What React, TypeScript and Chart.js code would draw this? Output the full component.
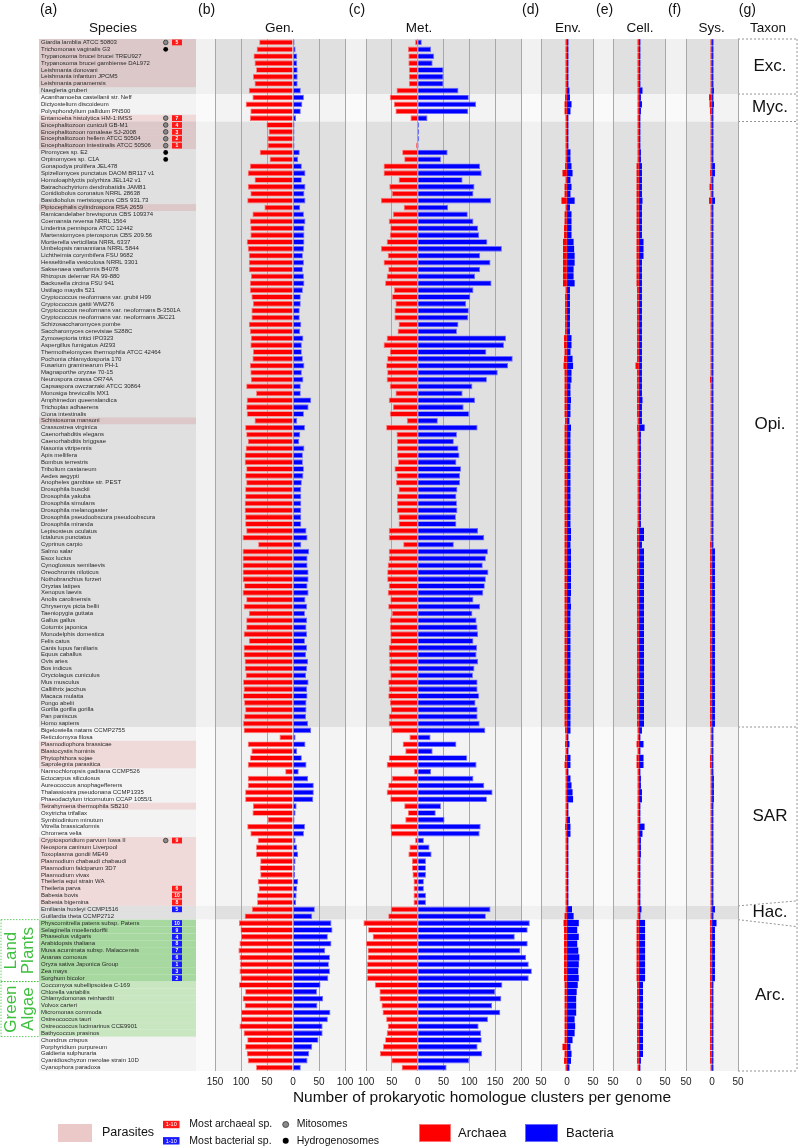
import React, { useEffect, useRef } from "react";
import { Chart, registerables } from "chart.js";

Chart.register(...registerables);

// ---------------- data ----------------
const species = [
  "Giardia lamblia ATCC 50803", "Trichomonas vaginalis G3", "Trypanosoma brucei brucei TREU927",
  "Trypanosoma brucei gambiense DAL972", "Leishmania donovani", "Leishmania infantum JPCM5",
  "Leishmania panamensis", "Naegleria gruberi", "Acanthamoeba castellanii str. Neff",
  "Dictyostelium discoideum", "Polysphondylium pallidum PN500", "Entamoeba histolytica HM-1:IMSS",
  "Encephalitozoon cuniculi GB-M1", "Encephalitozoon romaleae SJ-2008", "Encephalitozoon hellem ATCC 50504",
  "Encephalitozoon intestinalis ATCC 50506", "Piromyces sp. E2", "Orpinomyces sp. C1A",
  "Gonapodya prolifera JEL478", "Spizellomyces punctatus DAOM BR117 v1", "Homoloaphlyctis polyrhiza JEL142 v1",
  "Batrachochytrium dendrobatidis JAM81", "Conidiobolus coronatus NRRL 28638", "Basidiobolus meristosporus CBS 931.73",
  "Piptocephalis cylindrospora RSA 2659", "Ramicandelaber brevisporus CBS 109374", "Coemansia reversa NRRL 1564",
  "Linderina pennispora ATCC 12442", "Martensiomyces pterosporus CBS 209.56", "Mortierella verticillata NRRL 6337",
  "Umbelopsis ramanniana NRRL 5844", "Lichtheimia corymbifera FSU 9682", "Hesseltinella vesiculosa NRRL 3301",
  "Saksenaea vasiformis B4078", "Rhizopus delemar RA 99-880", "Backusella circina FSU 941",
  "Ustilago maydis 521", "Cryptococcus neoformans var. grubii H99", "Cryptococcus gattii WM276",
  "Cryptococcus neoformans var. neoformans B-3501A", "Cryptococcus neoformans var. neoformans JEC21",
  "Schizosaccharomyces pombe", "Saccharomyces cerevisiae S288C", "Zymoseptoria tritici IPO323",
  "Aspergillus fumigatus Af293", "Thermothelomyces thermophila ATCC 42464", "Pochonia chlamydosporia 170",
  "Fusarium graminearum PH-1", "Magnaporthe oryzae 70-15", "Neurospora crassa OR74A",
  "Capsaspora owczarzaki ATCC 30864", "Monosiga brevicollis MX1", "Amphimedon queenslandica",
  "Trichoplax adhaerens", "Ciona intestinalis", "Schistosoma mansoni", "Crassostrea virginica",
  "Caenorhabditis elegans", "Caenorhabditis briggsae", "Nasonia vitripennis", "Apis mellifera",
  "Bombus terrestris", "Tribolium castaneum", "Aedes aegypti", "Anopheles gambiae str. PEST",
  "Drosophila busckii", "Drosophila yakuba", "Drosophila simulans", "Drosophila melanogaster",
  "Drosophila pseudoobscura pseudoobscura", "Drosophila miranda", "Lepisosteus oculatus",
  "Ictalurus punctatus", "Cyprinus carpio", "Salmo salar", "Esox lucius", "Cynoglossus semilaevis",
  "Oreochromis niloticus", "Nothobranchius furzeri", "Oryzias latipes", "Xenopus laevis",
  "Anolis carolinensis", "Chrysemys picta bellii", "Taeniopygia guttata", "Gallus gallus",
  "Coturnix japonica", "Monodelphis domestica", "Felis catus", "Canis lupus familiaris",
  "Equus caballus", "Ovis aries", "Bos indicus", "Oryctolagus cuniculus", "Mus musculus",
  "Callithrix jacchus", "Macaca mulatta", "Pongo abelii", "Gorilla gorilla gorilla", "Pan paniscus",
  "Homo sapiens", "Bigelowiella natans CCMP2755", "Reticulomyxa filosa", "Plasmodiophora brassicae",
  "Blastocystis hominis", "Phytophthora sojae", "Saprolegnia parasitica", "Nannochloropsis gaditana CCMP526",
  "Ectocarpus siliculosus", "Aureococcus anophagefferens", "Thalassiosira pseudonana CCMP1335",
  "Phaeodactylum tricornutum CCAP 1055/1", "Tetrahymena thermophila SB210", "Oxytricha trifallax",
  "Symbiodinium minutum", "Vitrella brassicaformis", "Chromera velia", "Cryptosporidium parvum Iowa II",
  "Neospora caninum Liverpool", "Toxoplasma gondii ME49", "Plasmodium chabaudi chabaudi",
  "Plasmodium falciparum 3D7", "Plasmodium vivax", "Theileria equi strain WA", "Theileria parva",
  "Babesia bovis", "Babesia bigemina", "Emiliania huxleyi CCMP1516", "Guillardia theta CCMP2712",
  "Physcomitrella patens subsp. Patens", "Selaginella moellendorffii", "Phaseolus vulgaris",
  "Arabidopsis thaliana", "Musa acuminata subsp. Malaccensis", "Ananas comosus",
  "Oryza sativa Japonica Group", "Zea mays", "Sorghum bicolor", "Coccomyxa subellipsoidea C-169",
  "Chlorella variabilis", "Chlamydomonas reinhardtii", "Volvox carteri", "Micromonas commoda",
  "Ostreococcus tauri", "Ostreococcus lucimarinus CCE9901", "Bathycoccus prasinos", "Chondrus crispus",
  "Porphyridium purpureum", "Galdieria sulphuraria", "Cyanidioschyzon merolae strain 10D",
  "Cyanophora paradoxa",
];

// Gen. (genetic information processing)
const genArchaea = [
  65, 70, 76, 74, 71, 77, 74, 85, 78, 91,
  82, 83, 51, 47, 49, 49, 64, 45, 83, 87,
  74, 87, 82, 88, 55, 78, 83, 82, 82, 89,
  87, 85, 85, 85, 81, 83, 83, 80, 77, 80,
  80, 85, 83, 81, 82, 77, 78, 83, 82, 81,
  90, 71, 89, 90, 89, 74, 92, 90, 87, 91,
  93, 93, 90, 92, 90, 92, 92, 93, 93, 92,
  92, 90, 97, 67, 97, 97, 97, 97, 97, 94,
  97, 90, 95, 85, 90, 90, 95, 85, 95, 95,
  93, 93, 91, 96, 95, 96, 94, 92, 94, 96,
  95, 26, 87, 80, 83, 87, 15, 87, 87, 92,
  92, 77, 78, 49, 88, 82, 68, 71, 71, 63,
  64, 63, 68, 66, 69, 69, 79, 93, 104, 101,
  100, 103, 105, 103, 102, 103, 101, 104, 92, 97,
  93, 100, 100, 103, 95, 88, 92, 89, 87, 71,
];
const genBacteria = [
  3, 5, 8, 8, 9, 9, 9, 15, 21, 18,
  15, 6, 3, 3, 3, 3, 13, 10, 17, 24,
  17, 24, 22, 24, 14, 21, 24, 22, 22, 22,
  21, 19, 21, 19, 21, 22, 19, 15, 15, 13,
  13, 16, 14, 20, 17, 17, 19, 22, 17, 20,
  15, 15, 35, 30, 21, 8, 23, 14, 12, 22,
  19, 19, 21, 20, 17, 16, 16, 16, 16, 16,
  16, 26, 28, 16, 31, 28, 28, 30, 30, 28,
  30, 24, 27, 23, 27, 26, 27, 23, 27, 25,
  29, 27, 25, 30, 27, 28, 26, 26, 25, 29,
  35, 5, 24, 8, 17, 26, 11, 29, 40, 40,
  39, 7, 5, 3, 23, 21, 5, 8, 10, 5,
  4, 4, 10, 8, 7, 6, 42, 37, 74, 76,
  67, 74, 62, 71, 69, 71, 68, 53, 46, 58,
  47, 72, 67, 57, 57, 49, 37, 31, 28, 15,
];
// Met. (metabolism)
const metArchaea = [
  5, 19, 18, 18, 17, 17, 17, 41, 54, 46,
  43, 14, 1, 1, 1, 3, 30, 26, 66, 66,
  37, 55, 50, 71, 27, 48, 56, 53, 54, 60,
  71, 58, 66, 57, 60, 63, 46, 50, 43, 45,
  45, 37, 39, 60, 66, 54, 59, 61, 59, 60,
  54, 43, 56, 48, 54, 21, 61, 41, 40, 40,
  40, 38, 45, 41, 42, 37, 40, 40, 40, 37,
  37, 56, 56, 28, 56, 56, 58, 59, 59, 56,
  58, 53, 57, 50, 54, 54, 53, 53, 56, 56,
  55, 55, 53, 57, 56, 57, 54, 52, 56, 56,
  50, 16, 29, 24, 56, 60, 7, 50, 57, 60,
  53, 26, 19, 24, 53, 52, 5, 16, 18, 11,
  11, 10, 8, 8, 8, 8, 52, 57, 105, 96,
  87, 100, 97, 97, 98, 98, 98, 83, 74, 74,
  70, 68, 61, 58, 60, 63, 67, 73, 51, 31,
];
const metBacteria = [
  8, 26, 32, 29, 50, 50, 50, 79, 99, 113,
  98, 19, 3, 3, 3, 2, 58, 45, 121, 124,
  87, 110, 108, 142, 59, 97, 108, 117, 119, 135,
  163, 121, 141, 121, 111, 143, 108, 102, 94, 99,
  98, 79, 76, 171, 167, 133, 184, 175, 155, 134,
  106, 87, 111, 89, 100, 39, 116, 76, 70, 79,
  81, 75, 84, 82, 82, 77, 75, 76, 77, 74,
  75, 117, 129, 70, 136, 132, 126, 137, 132, 130,
  127, 108, 121, 106, 114, 116, 117, 108, 115, 114,
  117, 110, 107, 116, 116, 119, 112, 116, 116, 120,
  131, 25, 75, 29, 96, 114, 26, 108, 129, 145,
  134, 45, 35, 52, 122, 120, 12, 23, 27, 16,
  16, 16, 12, 12, 16, 16, 141, 132, 217, 213,
  188, 213, 199, 210, 215, 221, 215, 164, 150, 162,
  144, 160, 136, 118, 123, 124, 116, 125, 100, 56,
];
// Env. (environmental information processing)
const envArchaea = [
  2, 2, 2, 2, 2, 2, 2, 2, 3, 4,
  4, 2, 2, 2, 2, 2, 2, 2, 3, 8,
  2, 4, 4, 10, 2, 4, 4, 5, 5, 7,
  7, 7, 7, 7, 7, 7, 2, 3, 3, 3,
  3, 3, 3, 5, 5, 4, 5, 6, 4, 4,
  4, 4, 4, 4, 4, 3, 4, 4, 4, 4,
  4, 4, 4, 4, 4, 4, 4, 4, 4, 4,
  4, 4, 4, 4, 4, 4, 4, 4, 4, 4,
  4, 4, 4, 4, 4, 4, 4, 4, 4, 4,
  4, 4, 4, 4, 4, 4, 4, 4, 4, 4,
  3, 2, 3, 2, 3, 4, 2, 2, 2, 2,
  2, 2, 2, 2, 3, 2, 2, 2, 2, 2,
  2, 2, 2, 2, 2, 2, 2, 4, 6, 5,
  5, 5, 5, 5, 5, 5, 5, 4, 4, 4,
  4, 4, 4, 4, 4, 4, 8, 4, 5, 2,
];
const envBacteria = [
  2, 2, 2, 2, 2, 2, 2, 4, 5, 8,
  6, 2, 2, 2, 2, 2, 6, 6, 8, 10,
  6, 8, 6, 14, 5, 8, 8, 8, 8, 12,
  13, 14, 14, 12, 12, 14, 5, 5, 5, 5,
  5, 5, 5, 8, 8, 6, 10, 11, 8, 8,
  6, 6, 7, 6, 6, 4, 7, 6, 6, 6,
  6, 6, 6, 6, 6, 6, 6, 6, 6, 6,
  6, 7, 7, 6, 7, 7, 7, 7, 7, 7,
  7, 6, 7, 6, 6, 6, 6, 6, 6, 6,
  6, 6, 6, 6, 6, 6, 6, 6, 6, 6,
  6, 2, 4, 2, 6, 6, 2, 6, 8, 10,
  11, 2, 2, 5, 6, 6, 2, 2, 2, 2,
  2, 2, 2, 2, 2, 2, 9, 12, 22, 19,
  22, 19, 21, 23, 22, 21, 22, 20, 18, 17,
  17, 17, 14, 15, 14, 10, 6, 8, 7, 4,
];
// Cell. (cellular processes)
const cellArchaea = [
  2, 2, 2, 2, 2, 2, 2, 2, 2, 2,
  2, 2, 2, 2, 2, 2, 2, 2, 4, 4,
  4, 4, 4, 4, 4, 4, 4, 4, 4, 4,
  4, 4, 4, 4, 4, 4, 3, 3, 3, 3,
  3, 3, 3, 3, 3, 3, 3, 6, 3, 3,
  3, 3, 3, 3, 3, 2, 3, 2, 2, 2,
  2, 2, 2, 2, 2, 2, 2, 2, 2, 2,
  2, 3, 3, 3, 3, 3, 3, 3, 3, 3,
  3, 3, 3, 3, 3, 3, 3, 3, 3, 3,
  3, 3, 3, 3, 3, 3, 3, 3, 3, 3,
  2, 2, 4, 2, 4, 4, 2, 2, 2, 2,
  2, 2, 2, 2, 2, 2, 2, 2, 2, 2,
  2, 2, 2, 2, 2, 2, 2, 2, 4, 4,
  4, 4, 4, 4, 4, 4, 4, 3, 3, 3,
  3, 3, 3, 3, 3, 3, 3, 3, 3, 2,
];
const cellBacteria = [
  2, 2, 2, 2, 2, 2, 2, 6, 3, 5,
  3, 2, 2, 2, 2, 2, 3, 3, 5, 5,
  5, 5, 5, 6, 5, 5, 5, 5, 5, 8,
  8, 8, 5, 5, 5, 5, 5, 5, 5, 5,
  5, 5, 5, 5, 5, 5, 5, 5, 5, 5,
  5, 5, 6, 5, 5, 5, 10, 3, 3, 3,
  3, 3, 3, 3, 3, 3, 3, 3, 3, 3,
  3, 9, 9, 5, 9, 9, 9, 9, 9, 9,
  9, 9, 9, 9, 9, 9, 9, 9, 9, 9,
  9, 9, 9, 9, 9, 9, 9, 9, 9, 9,
  5, 2, 8, 2, 8, 8, 2, 3, 3, 5,
  5, 2, 2, 2, 10, 6, 3, 3, 3, 2,
  2, 2, 2, 2, 2, 2, 4, 2, 11, 11,
  11, 11, 11, 11, 11, 11, 11, 7, 7, 7,
  7, 7, 7, 7, 7, 7, 7, 7, 3, 2,
];
// Sys. (organismal systems)
const sysArchaea = [
  2, 2, 2, 2, 2, 2, 2, 2, 5, 4,
  3, 2, 2, 2, 2, 2, 2, 2, 2, 3,
  2, 4, 2, 5, 2, 2, 2, 2, 2, 2,
  2, 2, 2, 2, 2, 2, 2, 2, 2, 2,
  2, 2, 2, 2, 2, 2, 2, 2, 2, 3,
  2, 2, 2, 2, 2, 2, 2, 2, 2, 2,
  2, 2, 2, 2, 2, 2, 2, 2, 2, 2,
  2, 2, 2, 3, 3, 3, 3, 3, 3, 3,
  3, 3, 3, 3, 3, 3, 3, 3, 3, 3,
  3, 3, 3, 3, 3, 3, 3, 3, 3, 3,
  2, 2, 2, 2, 3, 3, 2, 2, 2, 2,
  2, 2, 2, 2, 2, 2, 2, 2, 2, 2,
  2, 2, 2, 2, 2, 2, 2, 2, 3, 3,
  3, 3, 3, 3, 3, 3, 3, 3, 3, 3,
  3, 3, 3, 3, 3, 3, 3, 3, 3, 2,
];
const sysBacteria = [
  2, 2, 2, 2, 2, 2, 2, 3, 2, 3,
  2, 2, 2, 2, 2, 2, 2, 2, 5, 5,
  2, 2, 2, 5, 2, 2, 2, 2, 2, 2,
  2, 2, 2, 2, 2, 2, 2, 2, 2, 2,
  2, 2, 2, 2, 2, 2, 2, 2, 2, 2,
  2, 2, 2, 2, 2, 2, 2, 2, 2, 2,
  2, 2, 2, 2, 2, 2, 2, 2, 2, 2,
  2, 2, 2, 2, 5, 5, 5, 5, 5, 5,
  5, 5, 5, 5, 5, 5, 5, 5, 5, 5,
  5, 5, 5, 5, 5, 5, 5, 5, 5, 5,
  2, 2, 2, 2, 2, 2, 2, 3, 3, 3,
  3, 2, 2, 2, 2, 2, 2, 2, 2, 2,
  2, 2, 2, 2, 2, 2, 5, 2, 8, 5,
  5, 5, 5, 5, 5, 5, 5, 2, 2, 2,
  2, 2, 2, 2, 2, 2, 2, 2, 2, 2,
];

const panelTitles = ["Gen.", "Met.", "Env.", "Cell.", "Sys."];
const panelLetters = ["(b)", "(c)", "(d)", "(e)", "(f)"];
const panelMin = [-150, -100, -50, -50, -50];
const panelMax = [100, 200, 50, 50, 50];
const tickStep = 50;
const archaeaSeries = [genArchaea, metArchaea, envArchaea, cellArchaea, sysArchaea];
const bacteriaSeries = [genBacteria, metBacteria, envBacteria, cellBacteria, sysBacteria];

const taxonLabels = ["Exc.", "Myc.", "Opi.", "SAR", "Hac.", "Arc."];
const taxonFirstRow = [0, 8, 12, 100, 126, 128];

const parasiteRows = [0, 1, 2, 3, 4, 5, 6, 11, 12, 13, 14, 15, 24, 55, 102, 103, 104, 105, 111,
  116, 117, 118, 119, 120, 121, 122, 123, 124, 125];
const mitosomeRows = [0, 11, 12, 13, 14, 15, 116];
const hydrogenosomeRows = [1, 16, 17];
// rank 1..10 (index + 1)
const mostArchaealRows = [15, 14, 13, 12, 0, 123, 11, 125, 116, 124];
const mostBacterialRows = [134, 136, 135, 130, 126, 133, 132, 131, 129, 128];
const landPlantRows = [128, 136];
const greenAlgaeRows = [137, 144];

const axisTitle = "Number of prokaryotic homologue clusters per genome";

// ---------------- layout & style ----------------
const W = 799;
const H = 1148;
const FONT = 'Arial, "Liberation Sans", Helvetica, sans-serif';
const PLOT_TOP = 39;
const PLOT_BOTTOM = 1071;
const AXIS_H = 20;
const SPECIES_LEFT = 39;
const SPECIES_TEXT_X = 41;
const SPECIES_RIGHT = 196;
const PANEL_LEFT = [215, 366, 541, 613, 686];
const PANEL_RIGHT = [345, 521, 593, 665, 738];
const BAND_DARK = "#e0e0e0";
const BAND_LIGHT = "#f3f3f3";
const PINK_DARK = "#dcc8c8";
const PINK_LIGHT = "#efd9d9";
const GREEN_LAND = "#a7d89f";
const GREEN_ALGAE = "#c8e7c1";
const GREEN_TEXT = "#3fbf3f";
const RED = "#ff0000";
const BLUE = "#0000ff";
const RED_EDGE = "#ff7070";
const BLUE_EDGE = "#6a6aff";

function text(ctx: CanvasRenderingContext2D, s: string, x: number, y: number, size: number,
  align: CanvasTextAlign = "center", color = "#111") {
  ctx.font = `${size}px ${FONT}`;
  ctx.fillStyle = color;
  ctx.textAlign = align;
  ctx.textBaseline = "middle";
  ctx.fillText(s, x, y);
}

function rowGeometry(chart: any) {
  const ys = chart.scales.y;
  const n = species.length;
  const pitch = (ys.bottom - ys.top) / n;
  return { ys, n, pitch, edge: (i: number) => ys.top + i * pitch, center: (i: number) => ys.getPixelForValue(i) };
}

function groupOf(i: number) {
  let g = 0;
  taxonFirstRow.forEach((r, k) => { if (i >= r) g = k; });
  return g;
}

const pagePlugin = {
  id: "page",
  beforeDraw(chart: any) {
    const ctx: CanvasRenderingContext2D = chart.ctx;
    const { ys, n, pitch, edge } = rowGeometry(chart);
    ctx.save();
    ctx.fillStyle = "#ffffff";
    ctx.fillRect(0, 0, W, H);
    // taxon bands
    taxonFirstRow.forEach((r0, g) => {
      const r1 = g + 1 < taxonFirstRow.length ? taxonFirstRow[g + 1] : n;
      ctx.fillStyle = g % 2 === 0 ? BAND_DARK : BAND_LIGHT;
      ctx.fillRect(SPECIES_LEFT, edge(r0), PANEL_RIGHT[4] - SPECIES_LEFT, edge(r1) - edge(r0));
    });
    // species column highlights
    for (let i = 0; i < n; i++) {
      let c: string | null = null;
      if (i >= landPlantRows[0] && i <= landPlantRows[1]) c = GREEN_LAND;
      else if (i >= greenAlgaeRows[0] && i <= greenAlgaeRows[1]) c = GREEN_ALGAE;
      else if (parasiteRows.includes(i)) c = groupOf(i) % 2 === 0 ? PINK_DARK : PINK_LIGHT;
      if (c) {
        ctx.fillStyle = c;
        const last = i === n - 1 || !parasiteRows.includes(i + 1);
        ctx.fillRect(SPECIES_LEFT, edge(i), SPECIES_RIGHT - SPECIES_LEFT, pitch + (last ? 0 : 0.5));
      }
    }
    // lighter strips between panels
    ctx.fillStyle = "rgba(255,255,255,0.55)";
    const gaps = [[SPECIES_RIGHT, PANEL_LEFT[0]]];
    for (let k = 1; k < PANEL_LEFT.length; k++) gaps.push([PANEL_RIGHT[k - 1], PANEL_LEFT[k]]);
    gaps.forEach(([a, b]) => ctx.fillRect(a, ys.top, b - a, ys.bottom - ys.top));
    ctx.restore();
  },
  afterDraw(chart: any) {
    const ctx: CanvasRenderingContext2D = chart.ctx;
    const { ys, n, edge, center } = rowGeometry(chart);
    ctx.save();
    // organelle markers
    mitosomeRows.forEach((i) => {
      ctx.beginPath();
      ctx.arc(165.7, center(i), 2.3, 0, Math.PI * 2);
      ctx.fillStyle = "#8a8a8a";
      ctx.fill();
      ctx.lineWidth = 0.8;
      ctx.strokeStyle = "#333";
      ctx.stroke();
    });
    hydrogenosomeRows.forEach((i) => {
      ctx.beginPath();
      ctx.arc(165.7, center(i), 2.4, 0, Math.PI * 2);
      ctx.fillStyle = "#000";
      ctx.fill();
    });
    const rankBox = (i: number, rank: number, color: string) => {
      const cy = center(i);
      ctx.fillStyle = color;
      ctx.fillRect(172, cy - 2.9, 10, 5.8);
      ctx.font = `bold 5px ${FONT}`;
      ctx.fillStyle = "#fff";
      ctx.textAlign = "center";
      ctx.textBaseline = "middle";
      ctx.fillText(String(rank), 177, cy + 0.3);
    };
    mostArchaealRows.forEach((i, k) => rankBox(i, k + 1, "#ff1a1a"));
    mostBacterialRows.forEach((i, k) => rankBox(i, k + 1, "#1a1aff"));

    // headers
    const hy1 = 10, hy2 = 28;
    text(ctx, "(a)", 48.5, hy1, 14);
    text(ctx, "Species", 113, hy2, 13.5);
    const letterX = [206.6, 357, 530.6, 604.6, 674.5];
    const titleX = [279.6, 419, 568, 640, 711.7];
    panelLetters.forEach((s, k) => text(ctx, s, letterX[k], hy1, 14));
    panelTitles.forEach((s, k) => text(ctx, s, titleX[k], hy2, 13.5));
    text(ctx, "(g)", 747.4, hy1, 14);
    text(ctx, "Taxon", 768, hy2, 13.5);

    // taxon column
    const TX0 = PANEL_RIGHT[4], TX1 = 797;
    ctx.strokeStyle = "#7a7a7a";
    ctx.lineWidth = 0.8;
    ctx.setLineDash([2, 2]);
    const line = (x0: number, y0: number, x1: number, y1: number) => {
      ctx.beginPath(); ctx.moveTo(x0, y0); ctx.lineTo(x1, y1); ctx.stroke();
    };
    line(TX1, ys.top, TX1, ys.bottom);
    line(TX0, ys.top, TX1, ys.top);
    line(TX0, ys.bottom, TX1, ys.bottom);
    const boxTop: number[] = [];
    const boxBottom: number[] = [];
    taxonFirstRow.forEach((r0, g) => {
      const r1 = g + 1 < taxonFirstRow.length ? taxonFirstRow[g + 1] : n;
      boxTop.push(edge(r0));
      boxBottom.push(edge(r1));
    });
    for (let g = 1; g < taxonFirstRow.length; g++) {
      const y = edge(taxonFirstRow[g]);
      let yr = y;
      const rows = (taxonFirstRow[g + 1] ?? n) - taxonFirstRow[g];
      const prevRows = taxonFirstRow[g] - taxonFirstRow[g - 1];
      if (rows < 3) yr = y - 5;
      else if (prevRows < 3) yr = y + 7;
      line(TX0, y, TX1, yr);
    }
    ctx.setLineDash([]);
    taxonLabels.forEach((s, g) => text(ctx, s, 770, (boxTop[g] + boxBottom[g]) / 2, 17));

    // Land plants / Green algae group labels
    const groupLabel = (rows: number[], l1: string, l2: string) => {
      const y0 = edge(rows[0]), y1 = edge(rows[1] + 1);
      const cy = (y0 + y1) / 2;
      [[l1, 11], [l2, 28]].forEach(([s, x]) => {
        ctx.save();
        ctx.translate(x as number, cy);
        ctx.rotate(-Math.PI / 2);
        text(ctx, s as string, 0, 0, 17, "center", GREEN_TEXT);
        ctx.restore();
      });
      ctx.strokeStyle = GREEN_TEXT;
      ctx.lineWidth = 0.8;
      ctx.setLineDash([1.5, 1.5]);
      line(1, y0, SPECIES_LEFT, y0);
      line(1, y1, SPECIES_LEFT, y1);
      line(1, y0, 1, y1);
      ctx.setLineDash([]);
    };
    groupLabel(landPlantRows, "Land", "Plants");
    groupLabel(greenAlgaeRows, "Green", "Algae");

    // axis title
    text(ctx, axisTitle, 482, 1098, 15.5);

    // legend
    const ly1 = 1124.5, ly2 = 1140.8, lyc = 1133;
    ctx.fillStyle = "#ecc9c9";
    ctx.fillRect(58, 1124, 34, 18);
    text(ctx, "Parasites", 102, lyc, 12.5, "left");
    ctx.fillStyle = "#ff1a1a";
    ctx.fillRect(163, ly1 - 3.7, 16.5, 7.4);
    text(ctx, "1-10", 171.2, ly1 + 0.2, 5.5, "center", "#fff");
    ctx.fillStyle = "#1a1aff";
    ctx.fillRect(163, ly2 - 3.7, 16.5, 7.4);
    text(ctx, "1-10", 171.2, ly2 + 0.2, 5.5, "center", "#fff");
    text(ctx, "Most archaeal sp.", 189.3, ly1, 10.5, "left");
    text(ctx, "Most bacterial sp.", 189.3, ly2, 10.5, "left");
    ctx.beginPath();
    ctx.arc(285.7, ly1, 3, 0, Math.PI * 2);
    ctx.fillStyle = "#8a8a8a"; ctx.fill();
    ctx.strokeStyle = "#333"; ctx.lineWidth = 0.8; ctx.stroke();
    ctx.beginPath();
    ctx.arc(285.7, ly2, 3, 0, Math.PI * 2);
    ctx.fillStyle = "#000"; ctx.fill();
    text(ctx, "Mitosomes", 296.7, ly1, 10.5, "left");
    text(ctx, "Hydrogenosomes", 296.7, ly2, 10.5, "left");
    ctx.fillStyle = RED;
    ctx.fillRect(419, 1124, 32, 18);
    ctx.strokeStyle = RED_EDGE; ctx.lineWidth = 1; ctx.strokeRect(419.5, 1124.5, 31, 17);
    text(ctx, "Archaea", 458, lyc, 13, "left");
    ctx.fillStyle = BLUE;
    ctx.fillRect(525, 1124, 33, 18);
    ctx.strokeStyle = BLUE_EDGE; ctx.strokeRect(525.5, 1124.5, 32, 17);
    text(ctx, "Bacteria", 566, lyc, 13, "left");
    ctx.restore();
  },
};

function makeChart(canvas: HTMLCanvasElement, k: number) {
  const isMain = k === 0;
  const small = k >= 2;
  const yAxisWidth = PANEL_LEFT[0] - SPECIES_TEXT_X;
  const yScale: any = {
    type: "category",
    stacked: true,
    display: isMain,
    grid: { display: false },
    border: { display: false },
    ticks: {
      autoSkip: false,
      padding: 0,
      crossAlign: "far",
      color: "#2a2a2a",
      font: { size: 6, family: FONT },
    },
  };
  if (isMain) yScale.afterFit = (s: any) => { s.width = yAxisWidth; };
  const barStyle = {
    borderWidth: small ? 0 : 0.9,
    barPercentage: 0.82,
    categoryPercentage: 1,
    inflateAmount: small ? 0.35 : "auto",
    clip: false as any,
  };
  return new Chart(canvas, {
    type: "bar",
    data: {
      labels: species,
      datasets: [
        {
          label: "Archaea",
          data: archaeaSeries[k].map((v) => -v),
          backgroundColor: RED,
          borderColor: RED_EDGE,
          ...barStyle,
        },
        {
          label: "Bacteria",
          data: bacteriaSeries[k],
          backgroundColor: BLUE,
          borderColor: BLUE_EDGE,
          ...barStyle,
        },
      ],
    },
    options: {
      indexAxis: "y",
      responsive: false,
      animation: false,
      devicePixelRatio: 1,
      layout: {
        padding: {
          left: isMain ? SPECIES_TEXT_X : PANEL_LEFT[k],
          right: W - PANEL_RIGHT[k],
          top: PLOT_TOP,
          bottom: H - PLOT_BOTTOM - AXIS_H,
        },
      },
      scales: {
        x: {
          type: "linear",
          position: "bottom",
          stacked: true,
          min: panelMin[k],
          max: panelMax[k],
          afterFit: (s: any) => { s.height = AXIS_H; },
          ticks: {
            stepSize: tickStep,
            autoSkip: false,
            maxRotation: 0,
            padding: 5,
            color: "#222",
            font: { size: 10, family: FONT },
            callback: (v: any) => String(Math.abs(Number(v))),
          },
          grid: { color: "#a8a8a8", lineWidth: 1, drawTicks: false },
          border: { display: false },
        },
        y: yScale,
      },
      plugins: { legend: { display: false }, tooltip: { enabled: false } },
    } as any,
    plugins: isMain ? [pagePlugin] : [],
  });
}

export default function App() {
  const refs = useRef<(HTMLCanvasElement | null)[]>([]);
  useEffect(() => {
    document.body.style.margin = "0";
    const charts = panelTitles.map((_, k) => makeChart(refs.current[k] as HTMLCanvasElement, k));
    return () => charts.forEach((c) => c.destroy());
  }, []);
  return (
    <div style={{ position: "absolute", left: 0, top: 0, width: W, height: H, background: "#fff" }}>
      {panelTitles.map((t, k) => (
        <canvas
          key={t}
          ref={(el) => { refs.current[k] = el; }}
          width={W}
          height={H}
          style={{ position: "absolute", left: 0, top: 0, width: W, height: H }}
        />
      ))}
    </div>
  );
}
